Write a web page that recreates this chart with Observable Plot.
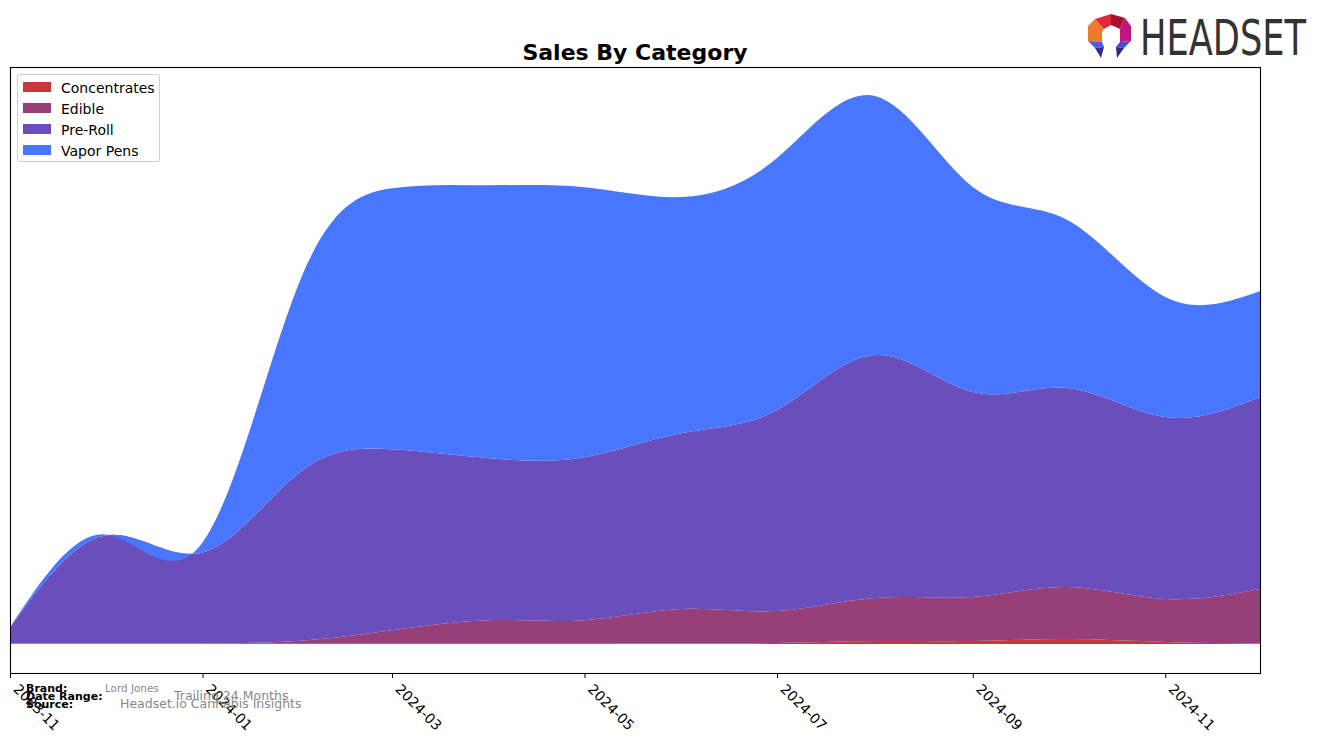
<!DOCTYPE html>
<html><head><meta charset="utf-8">
<script src="https://cdn.jsdelivr.net/npm/d3@7"></script>
<script src="https://cdn.jsdelivr.net/npm/@observablehq/plot@0.6"></script>
<style>
body{margin:0;background:#fff;font-family:"DejaVu Sans",sans-serif;}
#wrap{position:relative;width:1324px;height:743px;overflow:hidden;background:#fff;}
#wrap > svg.plot{position:absolute;left:0;top:0;}
#overlay{position:absolute;left:0;top:0;pointer-events:none;}
#legend{position:absolute;left:17px;top:74px;width:141px;height:86px;border:1px solid #d0d0d0;border-radius:3px;background:rgba(255,255,255,0.85);}
.li{position:absolute;left:0;height:14px;font-size:14px;line-height:14px;color:#000;white-space:nowrap;}
.sw{position:absolute;left:5px;top:1px;width:28px;height:10px;}
.lt{position:absolute;left:43px;top:0;}
</style></head><body><div id="wrap"></div>
<script>
const months = ["2023-11-01","2023-12-01","2024-01-01","2024-02-01","2024-03-01","2024-04-01","2024-05-01","2024-06-01","2024-07-01","2024-08-01","2024-09-01","2024-10-01","2024-11-01","2024-12-01"];
const categories = ["Concentrates","Edible","Pre-Roll","Vapor Pens"];
const colors = ["#c8373a","#963f78","#6a4fbc","#4876ff"];
const concentrates = [0.3,0.3,0.3,0.3,0.3,0.3,0.3,0.5,1,3,3,5,2,0.5];
const edible = [0.3,0.3,0.3,3,13.5,23.5,23.5,34.5,32,43,44,52,43,54.5];
const preRoll = [16,108,91,169,181,162,163,176,201,243,205,199,182,192];
const vaporPens = [0,1,10,192,261,273,270,236,252,259,205,168,120,106];
const tickLabels = ["2023-11","2024-01","2024-03","2024-05","2024-07","2024-09","2024-11"];
const title = "Sales By Category";
const footer = [["Brand:","Lord Jones"],["Date Range:","Trailing 24 Months"],["Source:","Headset.io Cannabis Insights"]];

const series = [concentrates, edible, preRoll, vaporPens];
const data = [];
categories.forEach((c, ci) => months.forEach((m, mi) => data.push({category: c, date: new Date(m + "T00:00:00Z"), value: series[ci][mi]})));
const tickDates = tickLabels.map(t => new Date(t + "-01T00:00:00Z"));
const fmt = d3.utcFormat("%Y-%m");

const chart = Plot.plot({
  width: 1324, height: 743,
  marginTop: 67, marginBottom: 70, marginLeft: 10, marginRight: 64,
  style: {fontFamily: "DejaVu Sans", background: "transparent"},
  x: {type: "utc", domain: [new Date(months[0] + "T00:00:00Z"), new Date(months[months.length-1] + "T00:00:00Z")], axis: null},
  y: {domain: [-29, 577], axis: null},
  color: {domain: categories, range: colors},
  marks: [
    Plot.areaY(data, {x: "date", y: "value", fill: "category", z: "category", curve: "natural"}),
    Plot.axisX({ticks: tickDates, tickSize: 5, tickFormat: () => "", stroke: "black", strokeWidth: 1}),
    Plot.text(tickDates, {x: d => d, frameAnchor: "bottom", text: d => fmt(d), rotate: 45, textAnchor: "start", lineAnchor: "bottom", dx: 2, dy: 16.5, fontSize: 14, fill: "black"}),
    Plot.frame({stroke: "black", strokeWidth: 1.1})
  ]
});
chart.classList.add("plot");
const wrap = document.getElementById("wrap");
wrap.appendChild(chart);

// legend
const lg = document.createElement("div");
lg.id = "legend";
categories.forEach((c, i) => {
  const li = document.createElement("div");
  li.className = "li";
  li.style.top = (6 + i * 21) + "px";
  li.innerHTML = `<span class="sw" style="background:${colors[i]}"></span><span class="lt">${c}</span>`;
  lg.appendChild(li);
});
wrap.appendChild(lg);

// overlay svg: title, footer, logo
const ns = "http://www.w3.org/2000/svg";
const ov = document.createElementNS(ns, "svg");
ov.setAttribute("id", "overlay");
ov.setAttribute("width", 1324); ov.setAttribute("height", 743);
function txt(x, y, s, attrs) {
  const t = document.createElementNS(ns, "text");
  t.setAttribute("x", x); t.setAttribute("y", y);
  for (const k in attrs) t.setAttribute(k, attrs[k]);
  t.textContent = s; ov.appendChild(t); return t;
}
txt(635, 60, title, {"text-anchor": "middle", "font-size": 22, "font-weight": "bold", "font-family": "DejaVu Sans"});
const fy = [691.5, 699.5, 707.5];
const fx = [105, 174, 120];
const fs = [10.4, 12.5, 12.5];
footer.forEach((f, i) => {
  txt(26, fy[i], f[0], {"font-size": 11, "font-weight": "bold", "font-family": "DejaVu Sans"});
  txt(fx[i], fy[i], f[1], {"font-size": fs[i], fill: "#888", "font-family": "DejaVu Sans"});
});
// logo
const polys = [
  ["1088,26 1095,19 1104,29 1102,32 1102,42 1088,41", "#f07a2a"],
  ["1095,19 1111,14 1111,25 1104,29", "#e0283c"],
  ["1111,14 1125,18 1120,29 1111,25", "#a8102c"],
  ["1125,18 1131,26 1131,41 1120,42 1120,29", "#c0167e"],
  ["1088,41 1102,42 1104,47 1095,48", "#5858dc"],
  ["1095,48 1104,47 1101,58", "#2e2e96"],
  ["1120,42 1131,41 1124,48 1116,47", "#4a4ad0"],
  ["1116,47 1124,48 1117,58", "#2a2a88"]
];
polys.forEach(p => {
  const e = document.createElementNS(ns, "polygon");
  e.setAttribute("points", p[0]); e.setAttribute("fill", p[1]); ov.appendChild(e);
});
txt(1140, 55, "HEADSET", {"font-size": 50, "font-family": "DejaVu Sans", fill: "#333", textLength: 166, lengthAdjust: "spacingAndGlyphs"});
wrap.appendChild(ov);
</script></body></html>
